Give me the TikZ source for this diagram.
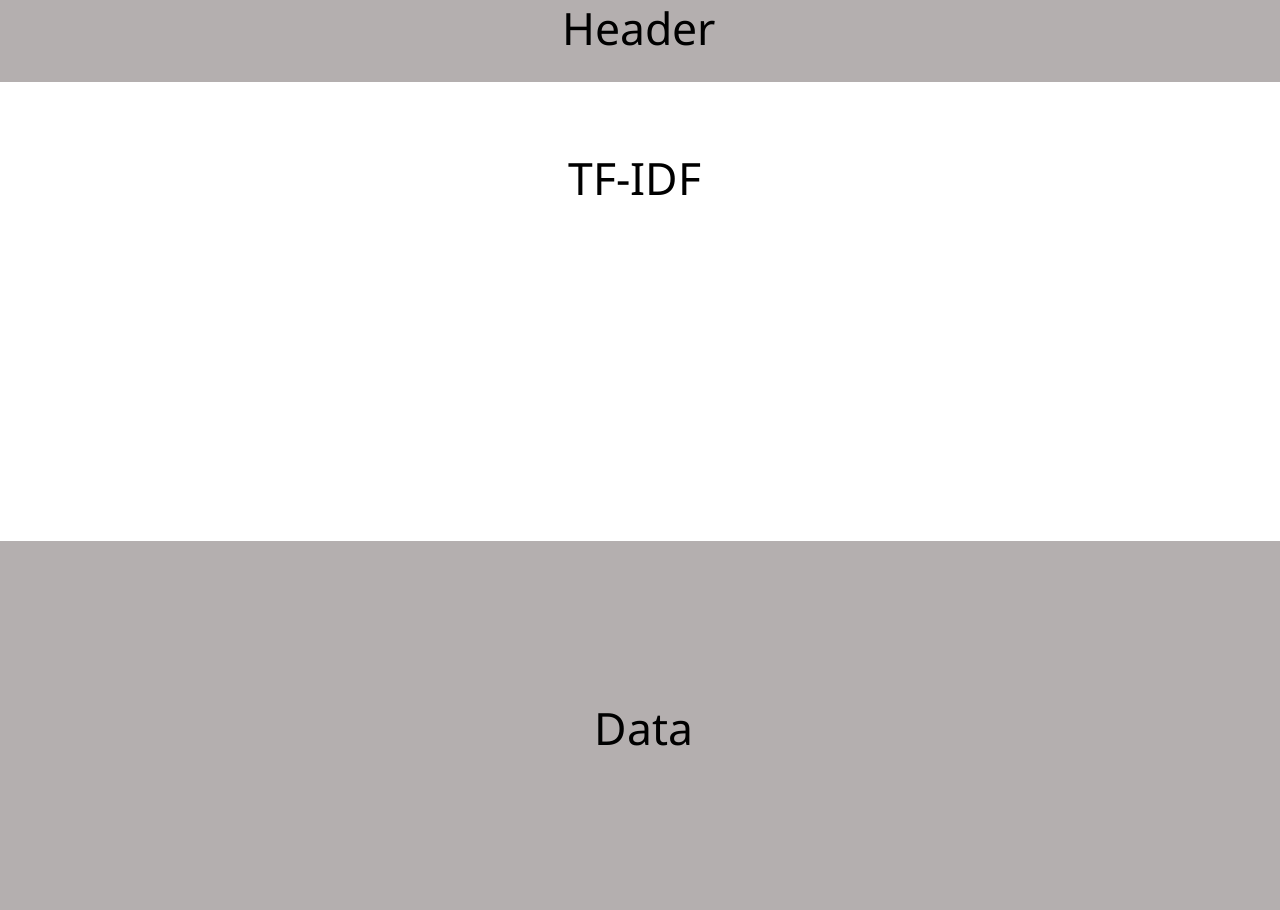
\documentclass[tikz,border=0pt]{standalone}
\usepackage{fontspec}
\setmainfont{Noto Sans}
\definecolor{bandgray}{HTML}{B4AFAF}
\begin{document}
\begin{tikzpicture}[x=1pt,y=-1pt,
  band/.style={fill=bandgray,draw=none},
  lbl/.style={font=\fontsize{44.5}{50}\selectfont,text=black,inner sep=0pt,anchor=base}]
\useasboundingbox (0,0) rectangle (1280,910);
\fill[white] (0,0) rectangle (1280,910);
\path[band] (0,0) rectangle (1280,82);
\path[band] (0,541) rectangle (1280,910);
\node[lbl] (header) at (639,45) {Header};
\node[lbl] (tfidf) at (635,195) {TF-IDF};
\node[lbl] (data) at (644,745) {Data};
\end{tikzpicture}
\end{document}
